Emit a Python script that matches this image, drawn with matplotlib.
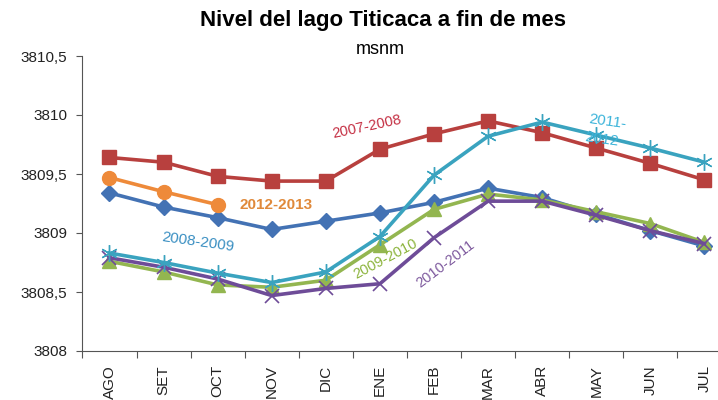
import matplotlib.pyplot as plt
import numpy as np

months = ["AGO", "SET", "OCT", "NOV", "DIC", "ENE", "FEB", "MAR", "ABR", "MAY", "JUN", "JUL"]

# nivel del lago (msnm) por temporada
nivel_2008_2009 = [3809.34, 3809.22, 3809.13, 3809.03, 3809.10, 3809.17, 3809.26, 3809.38, 3809.30, 3809.16, 3809.02, 3808.89]
nivel_2007_2008 = [3809.64, 3809.60, 3809.48, 3809.44, 3809.44, 3809.71, 3809.84, 3809.95, 3809.85, 3809.72, 3809.59, 3809.45]
nivel_2009_2010 = [3808.76, 3808.67, 3808.56, 3808.54, 3808.60, 3808.90, 3809.20, 3809.33, 3809.28, 3809.18, 3809.08, 3808.92]
nivel_2010_2011 = [3808.79, 3808.71, 3808.61, 3808.47, 3808.53, 3808.57, 3808.96, 3809.27, 3809.27, 3809.15, 3809.02, 3808.91]
nivel_2011_2012 = [3808.83, 3808.75, 3808.66, 3808.58, 3808.67, 3808.97, 3809.49, 3809.82, 3809.94, 3809.83, 3809.72, 3809.60]
nivel_2012_2013 = [3809.47, 3809.35, 3809.24]

yticks = [3808, 3808.5, 3809, 3809.5, 3810, 3810.5]
ytick_labels = ["3808", "3808,5", "3809", "3809,5", "3810", "3810,5"]

plt.rcParams["font.family"] = ["Liberation Sans", "DejaVu Sans"]

fig = plt.figure(figsize=(7.18, 4.0), dpi=100)
ax = fig.add_axes([0.1148, 0.1225, 0.904, 0.7375])

x = np.arange(len(months))
lw = 2.6
ax.plot(x, nivel_2008_2009, color="#4372B4", lw=lw, marker="D", ms=8, zorder=3)
ax.plot(x, nivel_2007_2008, color="#B8403E", lw=lw, marker="s", ms=10, zorder=3)
ax.plot(x, nivel_2009_2010, color="#93B650", lw=lw, marker="^", ms=10, zorder=4)
ax.plot(x, nivel_2010_2011, color="#6E4C98", lw=lw, marker="x", ms=10, mew=1.2, zorder=5)
ax.plot(x, nivel_2011_2012, color="#3AA3BF", lw=lw, marker=(6, 2, 0), ms=12, mew=1.0, zorder=6)
ax.plot(x[:len(nivel_2012_2013)], nivel_2012_2013, color="#EE8A3A", lw=lw, marker="o", ms=10, zorder=7)

ax.set_xlim(-0.5, 11.5)
ax.set_ylim(3808, 3810.5)
ax.set_yticks(yticks)
ax.set_yticklabels(ytick_labels)

ax.set_xticks(np.arange(-0.5, 12, 1))
ax.set_xticklabels([])
ax.set_xticks(x, minor=True)
ax.set_xticklabels(months, minor=True, rotation=90)
ax.tick_params(axis="x", which="major", direction="out", length=5, color="#555555")
ax.tick_params(axis="x", which="minor", length=0, pad=10, labelsize=11, labelcolor="#222222")
ax.tick_params(axis="y", direction="out", length=4, color="#555555", labelsize=11, pad=7, labelcolor="#222222")

for side in ["top", "right"]:
    ax.spines[side].set_visible(False)
for side in ["left", "bottom"]:
    ax.spines[side].set_color("#555555")

# etiquetas de las series
ax.text(4.76, 3809.90, "2007-2008", color="#C42E42", fontsize=10.5, rotation=12, ha="center", va="center")
ax.text(3.08, 3809.24, "2012-2013", color="#E0893A", fontsize=11, fontweight="bold", ha="center", va="center")
ax.text(1.64, 3808.92, "2008-2009", color="#3A8FC2", fontsize=11, rotation=-8, ha="center", va="center")
ax.text(5.11, 3808.78, "2009-2010", color="#8CB43C", fontsize=10.5, rotation=28, ha="center", va="center", zorder=8)
ax.text(6.22, 3808.74, "2010-2011", color="#7E5A9E", fontsize=10.5, rotation=37, ha="center", va="center", zorder=8)
ax.text(9.21, 3809.94, "2011-", color="#3CB4DA", fontsize=11, rotation=-8, ha="center", va="center", zorder=8)
ax.text(9.10, 3809.79, "2012", color="#3CB4DA", fontsize=11, rotation=-8, ha="center", va="center", zorder=8)

fig.text(0.534, 0.948, "Nivel del lago Titicaca a fin de mes", fontsize=16, fontweight="bold", ha="center", va="center")
fig.text(0.530, 0.875, "msnm", fontsize=13, ha="center", va="center")

fig.savefig("out.png", dpi=100)
